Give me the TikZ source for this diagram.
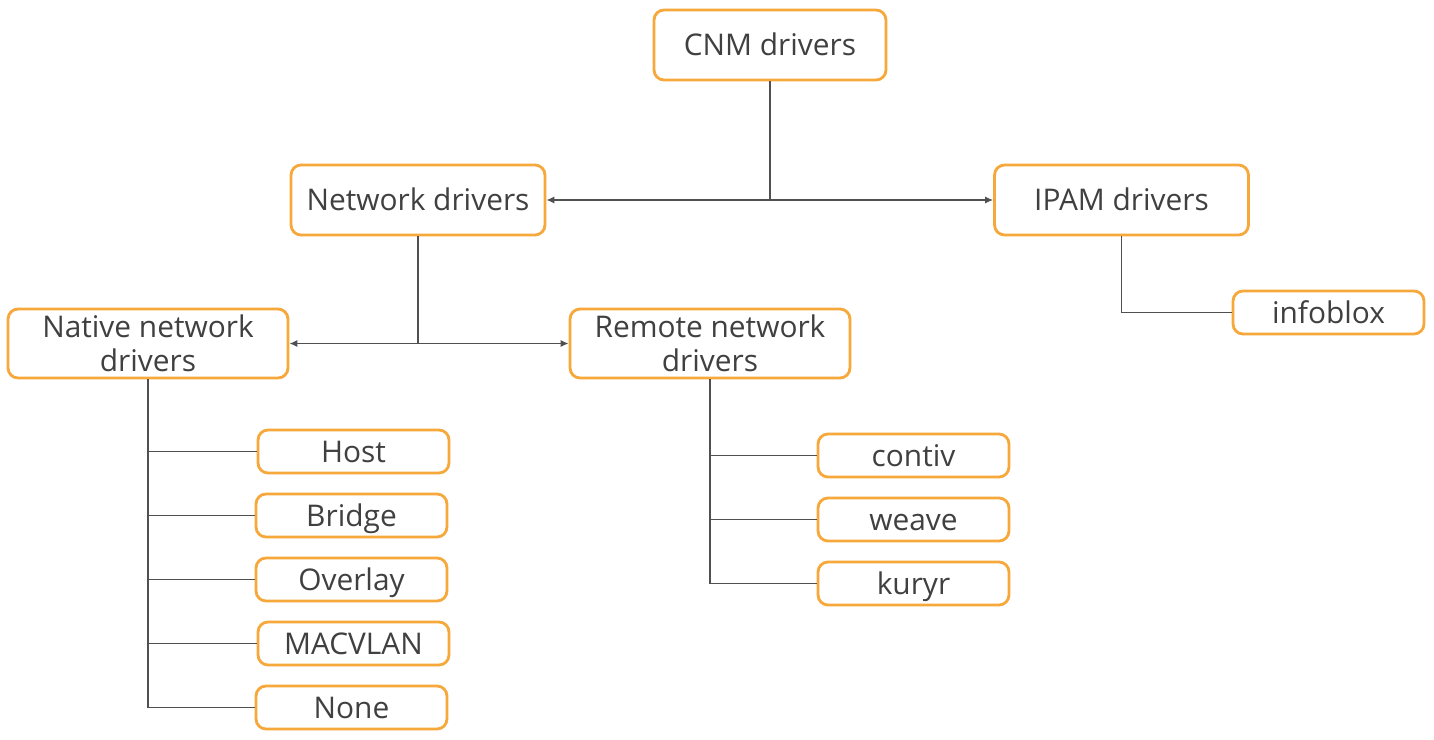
\documentclass[tikz,border=0pt]{standalone}
\usepackage{fontspec}
\setmainfont{Open Sans}
\definecolor{boxorange}{RGB}{247, 168, 59}
\definecolor{textgray}{RGB}{64, 64, 64}
\definecolor{linegray}{RGB}{80, 80, 80}
\usetikzlibrary{arrows.meta, positioning}
\tikzset{
    drvbox/.style={draw=boxorange, line width=1.6pt, rounded corners=0.2cm, fill=white,
                   text=textgray, align=center, inner sep=0pt,
                   font=\fontsize{17}{19.4}\selectfont},
    oneline/.style={text height=12.1pt, text depth=0pt},
    bigbox/.style={drvbox, oneline, minimum width=5.08cm, minimum height=1.4cm},
    widebox/.style={drvbox, minimum width=5.6cm, minimum height=1.38cm},
    leafbox/.style={drvbox, oneline, minimum width=3.82cm, minimum height=0.86cm},
    link/.style={draw=linegray, line width=0.8pt},
    biarrow/.style={link, {Latex[length=4.5pt,width=4pt]}-{Latex[length=4.5pt,width=4pt]}}
}
\begin{document}
\begin{tikzpicture}[x=0.02cm, y=-0.02cm]
                    \useasboundingbox (0, 0) rectangle (1434, 740);
                    % top level
                    \node[drvbox, oneline, minimum width=4.64cm, minimum height=1.4cm] (cnm) at (770, 45) {CNM drivers};
                    \node[bigbox] (network) at (418, 200) {Network drivers};
                    \node[bigbox] (ipam) at (1121.5, 200) {IPAM drivers};
                    % network drivers
                    \node[widebox] (native) at (148, 343.5) {Native network\\drivers};
                    \node[widebox] (remote) at (710, 343.5) {Remote network\\drivers};
                    \node[leafbox] (infoblox) at (1328.5, 312.5) {infoblox};
                    % native leaves
                    \node[leafbox] (host) at (353.5, 451.5) {Host};
                    \node[leafbox] (bridge) at (351.5, 515.5) {Bridge};
                    \node[leafbox] (overlay) at (351.5, 579.5) {Overlay};
                    \node[leafbox] (macvlan) at (353.5, 643.5) {MACVLAN};
                    \node[leafbox] (none) at (351.5, 707.5) {None};
                    % remote leaves
                    \node[leafbox] (contiv) at (913.5, 455.5) {contiv};
                    \node[leafbox] (weave) at (913.5, 519.5) {weave};
                    \node[leafbox] (kuryr) at (913.5, 583.5) {kuryr};
                    % connectors
                    \coordinate (cnmfork) at (cnm.south |- network.east);
                    \draw[link] (cnm.south) -- (cnmfork);
                    \draw[biarrow] (network.east) -- (ipam.west);
                    \coordinate (netfork) at (network.south |- native.east);
                    \draw[link] (network.south) -- (netfork);
                    \draw[biarrow] (native.east) -- (remote.west);
                    \draw[link] (ipam.south) |- (infoblox.west);
                    \draw[link] (native.south) -- (native.south |- none.west) -- (none.west);
                    \foreach \leaf in {host, bridge, overlay, macvlan}
                        \draw[link] (native.south |- \leaf.west) -- (\leaf.west);
                    \draw[link] (remote.south) -- (remote.south |- kuryr.west) -- (kuryr.west);
                    \foreach \leaf in {contiv, weave}
                        \draw[link] (remote.south |- \leaf.west) -- (\leaf.west);
                \end{tikzpicture}
\end{document}
